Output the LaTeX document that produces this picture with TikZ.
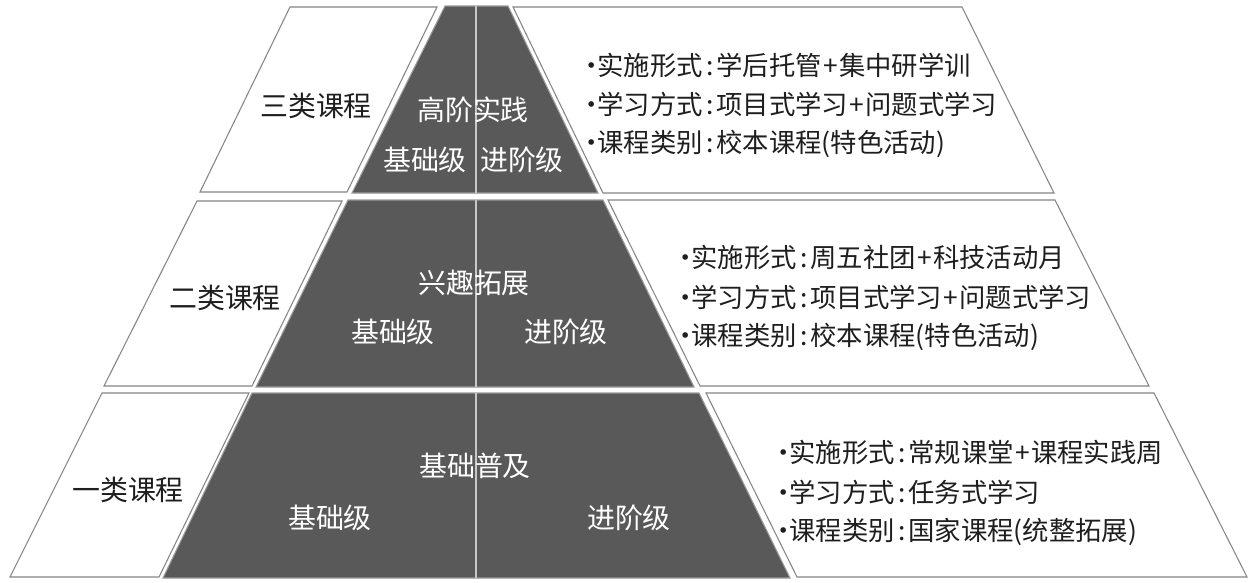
\documentclass[tikz,border=0pt]{standalone}
\usepackage{fontspec}
\newfontfamily\cjk{Noto Sans CJK SC}
\definecolor{edgegray}{HTML}{858585}
\definecolor{darkfill}{HTML}{595959}
\definecolor{darkedge}{HTML}{9A9A9A}
\definecolor{midgray}{HTML}{C8C8C8}
\definecolor{txt}{HTML}{1E1E1E}
\newcommand\dotb{\makebox[0.42em][c]{·}}
\newcommand\colo{\hspace{0.12em}:\hspace{0.12em}}
\newcommand\plu{\hspace{0.05em}+\hspace{0.05em}}
\begin{document}
\begin{tikzpicture}[x=0.02cm,y=-0.02cm,
  wbox/.style={draw=edgegray, line width=0.6pt, fill=white},
  dbox/.style={draw=darkedge, line width=0.6pt, fill=darkfill},
  midline/.style={draw=midgray, line width=0.7pt},
  lbl/.style={font=\cjk\fontsize{15.9}{18}\selectfont, text=txt, inner sep=0pt},
  wlbl/.style={font=\cjk\fontsize{15.9}{18}\selectfont, text=white, inner sep=0pt},
  info/.style={font=\cjk\fontsize{15}{18}\selectfont, anchor=west, inner sep=0pt, text=txt}]
\useasboundingbox (0,0) rectangle (1260,582);
\fill[white] (0,0) rectangle (1260,582);

% Row 1
\draw[wbox] (290,7) -- (437,7) -- (347,192) -- (200,192) -- cycle;
\draw[dbox] (445,6) -- (508,6) -- (598,193) -- (352,193) -- cycle;
\draw[wbox] (513,7) -- (962,7) -- (1054,193) -- (603,193) -- cycle;
\draw[midline] (476,6) -- (476,193);

% Row 2
\draw[wbox] (197,201) -- (342,201) -- (252,386) -- (104,386) -- cycle;
\draw[dbox] (348,200) -- (603,200) -- (694,387) -- (256,387) -- cycle;
\draw[wbox] (608,200) -- (1055,200) -- (1149,386) -- (700,386) -- cycle;
\draw[midline] (476,200) -- (476,387);

% Row 3
\draw[wbox] (102,393) -- (249,393) -- (159,577) -- (10,577) -- cycle;
\draw[dbox] (252,393) -- (699,393) -- (790,578) -- (163,578) -- cycle;
\draw[wbox] (706,393) -- (1154,393) -- (1247,577) -- (797,577) -- cycle;
\draw[midline] (476,393) -- (476,578);

% Left labels
\node[lbl] (c3) at (316,106) {三类课程};
\node[lbl] (c2) at (225,298) {二类课程};
\node[lbl] (c1) at (128,490) {一类课程};

% Dark labels
\node[wlbl] (t3) at (473,110) {高阶实践};
\node[wlbl] (b3) at (425,160) {基础级};
\node[wlbl] (a3) at (522,160) {进阶级};
\node[wlbl] (t2) at (474,283) {兴趣拓展};
\node[wlbl] (b2) at (393,332) {基础级};
\node[wlbl] (a2) at (566,332) {进阶级};
\node[wlbl] (t1) at (475,466) {基础普及};
\node[wlbl] (b1) at (330,518) {基础级};
\node[wlbl] (a1) at (629,518) {进阶级};

% Right info
\node[info] (r3a) at (586,65) {\dotb 实施形式\colo 学后托管\plu 集中研学训};
\node[info] (r3b) at (586,104) {\dotb 学习方式\colo 项目式学习\plu 问题式学习};
\node[info] (r3c) at (586,144) {\dotb 课程类别\colo 校本课程(特色活动)};

\node[info] (r2a) at (680,257) {\dotb 实施形式\colo 周五社团\plu 科技活动月};
\node[info] (r2b) at (680,297) {\dotb 学习方式\colo 项目式学习\plu 问题式学习};
\node[info] (r2c) at (680,337) {\dotb 课程类别\colo 校本课程(特色活动)};

\node[info] (r1a) at (778,452) {\dotb 实施形式\colo 常规课堂\plu 课程实践周};
\node[info] (r1b) at (778,492) {\dotb 学习方式\colo 任务式学习};
\node[info] (r1c) at (778,532) {\dotb 课程类别\colo 国家课程(统整拓展)};
\end{tikzpicture}
\end{document}
